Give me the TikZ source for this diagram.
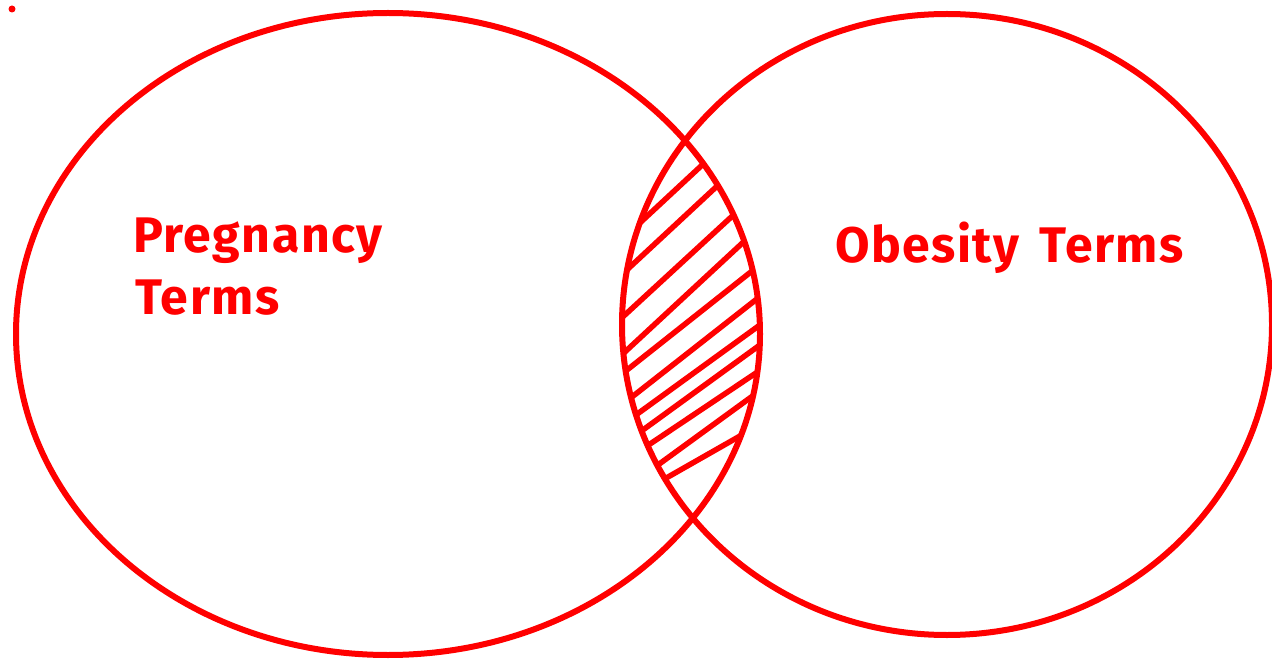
\documentclass[tikz,border=0pt]{standalone}
\usepackage{fontspec}
\setmainfont{Fira Sans}
\usetikzlibrary{calc}
\definecolor{vred}{RGB}{255,0,0}
\tikzset{
  setline/.style={draw=vred, line width=6pt},
  hatchline/.style={draw=vred, line width=5.5pt, line cap=round},
  lbl/.style={text=vred, font=\fontsize{50}{60}\selectfont\bfseries\addfontfeatures{LetterSpace=3}, inner sep=0pt, anchor=base west}
}
\begin{document}
\begin{tikzpicture}[x=1pt,y=-1pt]
\useasboundingbox (0,0) rectangle (1272,660);
\fill[white] (0,0) rectangle (1272,660);
% stray dot
\fill[vred] (12,9) circle (3.5);
% sets
\draw[setline] (388,334) ellipse [x radius=372, y radius=321];
\draw[setline] (947,324.5) ellipse [x radius=325, y radius=310.5];
% hatching of the intersection
\begin{scope}
  \clip (388,334) ellipse [x radius=372, y radius=321];
  \clip (947,324.5) ellipse [x radius=325, y radius=310.5];
  \foreach \ax/\ay/\bx/\by in {
    643/220/700/167, 630/267/715/188, 627/313/728/220, 627/350/737/248,
    627/370/747/275, 637/393/753/302, 640/412/753/330, 647/427/753/350,
    653/442/750/377, 662/462/743/403, 668/477/733/440}{
    \coordinate (ha) at (\ax,\ay);
    \coordinate (hb) at (\bx,\by);
    \draw[hatchline] ($(ha)!-0.15!(hb)$) -- ($(hb)!-0.15!(ha)$);
  }
\end{scope}
% labels
\node[lbl] (preg) at (133,253) {Pregnancy};
\node[lbl] (terms) at (135,315) {Terms};
\node[lbl] (obes) at (835,263) {Obesity\hspace{20pt}Terms};
\end{tikzpicture}
\end{document}
